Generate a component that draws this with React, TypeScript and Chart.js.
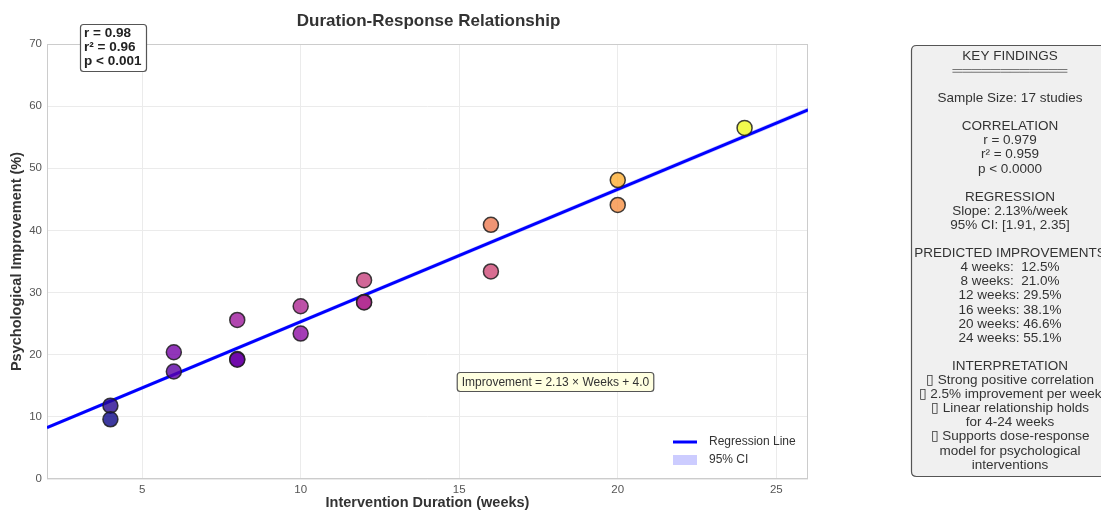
import React, { useEffect, useRef } from "react";
import { Chart, registerables } from "chart.js";

Chart.register(...registerables);

// Study data: intervention length (weeks) and reported improvement (%)
const weeks = [4, 4, 6, 6, 8, 8, 8, 10, 10, 12, 12, 12, 16, 16, 20, 20, 24];
const improvement = [11.8, 9.6, 20.4, 17.3, 25.6, 19.3, 19.2, 27.8, 23.4, 32.0, 28.5, 28.4, 40.9, 33.4, 48.1, 44.1, 56.5];

// Fitted regression
const slope = 2.13;
const intercept = 4.0;
const fitRange = [2, 26];
const ciLower = [7.95, 59.0];
const ciUpper = [8.55, 59.8];

const xTicks = [5, 10, 15, 20, 25];
const yTicks = [0, 10, 20, 30, 40, 50, 60, 70];

const statsLines = ["r = 0.98", "r\u00b2 = 0.96", "p < 0.001"];
const equationText = "Improvement = 2.13 \u00d7 Weeks + 4.0";

const findingsLines = [
  "KEY FINDINGS",
  "\u2550\u2550\u2550\u2550\u2550\u2550\u2550\u2550\u2550\u2550\u2550\u2550",
  "",
  "Sample Size: 17 studies",
  "",
  "CORRELATION",
  "r = 0.979",
  "r\u00b2 = 0.959",
  "p < 0.0000",
  "",
  "REGRESSION",
  "Slope: 2.13%/week",
  "95% CI: [1.91, 2.35]",
  "",
  "PREDICTED IMPROVEMENTS",
  "4 weeks:  12.5%",
  "8 weeks:  21.0%",
  "12 weeks: 29.5%",
  "16 weeks: 38.1%",
  "20 weeks: 46.6%",
  "24 weeks: 55.1%",
  "",
  "INTERPRETATION",
  "\u25af Strong positive correlation",
  "\u25af 2.5% improvement per week",
  "\u25af Linear relationship holds",
  "for 4-24 weeks",
  "\u25af Supports dose-response",
  "model for psychological",
  "interventions",
];

// plasma colormap stops
const plasma = [
  [13, 8, 135], [65, 4, 157], [106, 0, 168], [143, 13, 164], [177, 42, 144],
  [204, 71, 120], [225, 100, 98], [242, 132, 75], [252, 166, 54], [252, 206, 37], [240, 249, 33],
];

function plasmaColor(t: number, alpha: number) {
  const v = Math.max(0, Math.min(1, t)) * (plasma.length - 1);
  const i = Math.min(Math.floor(v), plasma.length - 2);
  const f = v - i;
  const c = plasma[i].map((a, k) => Math.round(a + (plasma[i + 1][k] - a) * f));
  return `rgba(${c[0]},${c[1]},${c[2]},${alpha})`;
}

const FONT = "'Liberation Sans', Arial, sans-serif";

function roundRect(ctx: CanvasRenderingContext2D, x: number, y: number, w: number, h: number, r: number) {
  ctx.beginPath();
  ctx.moveTo(x + r, y);
  ctx.lineTo(x + w - r, y);
  ctx.quadraticCurveTo(x + w, y, x + w, y + r);
  ctx.lineTo(x + w, y + h - r);
  ctx.quadraticCurveTo(x + w, y + h, x + w - r, y + h);
  ctx.lineTo(x + r, y + h);
  ctx.quadraticCurveTo(x, y + h, x, y + h - r);
  ctx.lineTo(x, y + r);
  ctx.quadraticCurveTo(x, y, x + r, y);
  ctx.closePath();
}

const decorations = {
  id: "decorations",
  beforeDatasetsDraw(chart: any) {
    const { ctx, chartArea: a } = chart;
    ctx.save();
    ctx.strokeStyle = "#cccccc";
    ctx.lineWidth = 1;
    ctx.strokeRect(a.left + 0.5, a.top + 0.5, a.right - a.left - 1, a.bottom - a.top - 1);
    ctx.restore();
  },
  afterDraw(chart: any) {
    const { ctx, chartArea: a } = chart;
    const cx = (a.left + a.right) / 2;
    ctx.save();

    // title and axis labels
    ctx.fillStyle = "#333333";
    ctx.textAlign = "center";
    ctx.textBaseline = "middle";
    ctx.font = `bold 17px ${FONT}`;
    ctx.fillText("Duration-Response Relationship", cx + 1, 21);
    ctx.font = `bold 14.5px ${FONT}`;
    ctx.fillText("Intervention Duration (weeks)", cx, 503);
    ctx.save();
    ctx.translate(17, (a.top + a.bottom) / 2);
    ctx.rotate(-Math.PI / 2);
    ctx.fillText("Psychological Improvement (%)", 0, 0);
    ctx.restore();

    // correlation summary box
    ctx.font = `bold 13.5px ${FONT}`;
    roundRect(ctx, 80.5, 24.5, 66, 47, 3);
    ctx.fillStyle = "#ffffff";
    ctx.fill();
    ctx.strokeStyle = "#555555";
    ctx.lineWidth = 1.2;
    ctx.stroke();
    ctx.fillStyle = "#222222";
    ctx.textAlign = "left";
    statsLines.forEach((s, i) => ctx.fillText(s, 84, 33 + i * 14));

    // regression equation label
    ctx.font = `12px ${FONT}`;
    const ew = ctx.measureText(equationText).width + 9;
    const ex = 555.5;
    const ey = 382;
    roundRect(ctx, ex - ew / 2, ey - 9.5, ew, 19, 3);
    ctx.fillStyle = "#ffffe0";
    ctx.fill();
    ctx.strokeStyle = "#555555";
    ctx.lineWidth = 1.2;
    ctx.stroke();
    ctx.fillStyle = "#333333";
    ctx.textAlign = "center";
    ctx.fillText(equationText, ex, ey + 0.5);

    // legend
    ctx.strokeStyle = "#0000ff";
    ctx.lineWidth = 3;
    ctx.beginPath();
    ctx.moveTo(673, 442);
    ctx.lineTo(697, 442);
    ctx.stroke();
    ctx.fillStyle = "rgba(0,0,255,0.2)";
    ctx.fillRect(673, 455, 24, 10);
    ctx.fillStyle = "#333333";
    ctx.textAlign = "left";
    ctx.font = `12px ${FONT}`;
    ctx.fillText("Regression Line", 709, 442);
    ctx.fillText("95% CI", 709, 460);

    // key findings panel
    roundRect(ctx, 911.5, 45.5, 220, 431, 5);
    ctx.fillStyle = "#f0f0f0";
    ctx.fill();
    ctx.strokeStyle = "#555555";
    ctx.lineWidth = 1.2;
    ctx.stroke();
    ctx.fillStyle = "#333333";
    ctx.textAlign = "center";
    ctx.font = `13.5px ${FONT}`;
    findingsLines.forEach((s, i) => {
      if (!s) return;
      if (i === 1) {
        ctx.fillStyle = "#777777";
        ctx.fillText(s, 1010, 57 + i * 14.1);
        ctx.fillStyle = "#333333";
      } else {
        ctx.fillText(s, 1010, 56 + i * 14.1);
      }
    });

    ctx.restore();
  },
};

export default function App() {
  const ref = useRef<HTMLCanvasElement | null>(null);

  useEffect(() => {
    if (!ref.current) return;
    const yMin = Math.min(...improvement);
    const yMax = Math.max(...improvement);
    const colors = improvement.map((v) => plasmaColor((v - yMin) / (yMax - yMin), 0.8));

    const chart = new Chart(ref.current, {
      type: "scatter",
      data: {
        datasets: [
          {
            label: "Studies",
            data: weeks.map((w, i) => ({ x: w, y: improvement[i] })),
            backgroundColor: colors,
            borderColor: "rgba(30,30,30,0.85)",
            borderWidth: 1.5,
            pointRadius: 7.5,
            order: 0,
          },
          {
            type: "line",
            label: "Regression Line",
            data: fitRange.map((x) => ({ x, y: slope * x + intercept })),
            borderColor: "#0000ff",
            borderWidth: 3,
            pointRadius: 0,
            fill: false,
            order: 1,
          },
          {
            type: "line",
            label: "ci-low",
            data: fitRange.map((x, i) => ({ x, y: ciLower[i] })),
            borderWidth: 0,
            pointRadius: 0,
            fill: false,
            order: 3,
          },
          {
            type: "line",
            label: "95% CI",
            data: fitRange.map((x, i) => ({ x, y: ciUpper[i] })),
            borderWidth: 0,
            pointRadius: 0,
            backgroundColor: "rgba(0,0,255,0.2)",
            fill: "-1",
            order: 2,
          },
        ],
      },
      options: {
        responsive: false,
        animation: false,
        layout: { padding: { left: 0, top: 44, right: 293, bottom: 0 } },
        plugins: {
          legend: { display: false },
          title: { display: false },
          tooltip: { enabled: false },
        },
        scales: {
          x: {
            type: "linear",
            min: 2,
            max: 26,
            afterBuildTicks: (s: any) => {
              s.ticks = xTicks.map((v) => ({ value: v }));
            },
            afterFit: (s: any) => {
              s.height = 33;
            },
            grid: { color: "#ebebeb", drawTicks: false },
            border: { display: false },
            ticks: { color: "#555555", font: { family: FONT, size: 11.5 }, padding: 4 },
          },
          y: {
            type: "linear",
            min: 0,
            max: 70,
            afterBuildTicks: (s: any) => {
              s.ticks = yTicks.map((v) => ({ value: v }));
            },
            afterFit: (s: any) => {
              s.width = 47;
            },
            grid: { color: "#ebebeb", drawTicks: false },
            border: { display: false },
            ticks: { color: "#555555", font: { family: FONT, size: 11.5 }, padding: 5 },
          },
        },
      },
      plugins: [decorations],
    });
    return () => chart.destroy();
  }, []);

  return (
    <div style={{ position: "absolute", left: 0, top: 0, width: 1101, height: 512, background: "#ffffff" }}>
      <canvas ref={ref} width={1101} height={512} style={{ display: "block" }} />
    </div>
  );
}
